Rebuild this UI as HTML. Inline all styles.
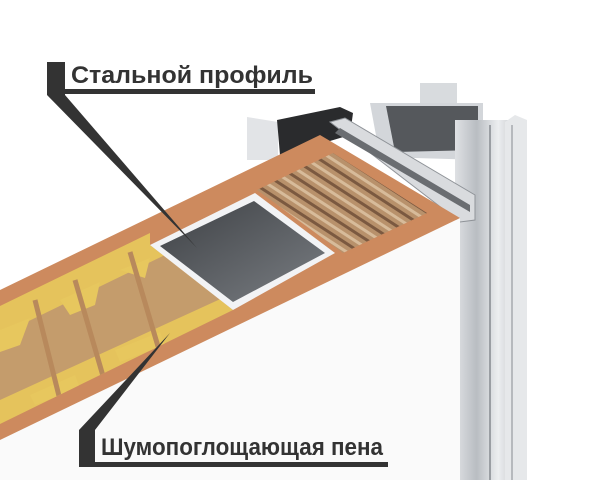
<!DOCTYPE html>
<html><head><meta charset="utf-8"><style>
html,body{margin:0;padding:0;background:#fff;}
svg{display:block}
</style></head><body>
<svg width="605" height="480" viewBox="0 0 605 480" xmlns="http://www.w3.org/2000/svg">
<defs>
<linearGradient id="al" x1="0" x2="1"><stop offset="0" stop-color="#dfe1e4"/><stop offset="0.3" stop-color="#b9bdc2"/><stop offset="0.6" stop-color="#eceef0"/><stop offset="1" stop-color="#a9adb2"/></linearGradient>
<linearGradient id="dk" x1="0" y1="0" x2="1" y2="1"><stop offset="0" stop-color="#3e4145"/><stop offset="1" stop-color="#7a7e83"/></linearGradient>
<pattern id="wd" width="14" height="14" patternUnits="userSpaceOnUse" patternTransform="rotate(33)"><rect width="14" height="14" fill="#b8916b"/><rect width="14" height="3" fill="#7b5940"/><rect y="7" width="14" height="3" fill="#d7bb9a"/></pattern>
<clipPath id="inner"><polygon points="0,306 150,233 150,245 233,310 0,424"/></clipPath>
</defs>
<!-- top post -->
<rect x="420" y="83" width="37" height="25" fill="#d8dbde"/>
<!-- back aluminium piece -->
<polygon points="247,117 278,122 278,160 247,160" fill="#e2e4e7"/>
<!-- top tube -->
<polygon points="370,103 483,103 483,160 380,157" fill="#d3d6da"/>
<polygon points="386,106 478,106 478,150 395,152" fill="#55585c"/>
<!-- gasket -->
<polygon points="277,120 340,107 353,113 350,135 300,150 280,155" fill="#2a2b2d"/>
<!-- vertical profile -->
<rect x="455" y="120" width="72" height="360" fill="url(#al)"/>
<polygon points="505,122 515,115 527,120 527,480 505,480" fill="#e6e8ea"/>
<line x1="490" y1="125" x2="490" y2="480" stroke="#9a9ea3" stroke-width="2"/>
<line x1="512" y1="125" x2="512" y2="480" stroke="#a5a9ae" stroke-width="1.5"/>
<!-- diagonal frame strips -->
<polygon points="330,122 345,118 475,195 475,220 460,222" fill="#d9dbde" stroke="#8f9398" stroke-width="1"/>
<polygon points="340,128 470,205 470,212 335,133" fill="#6a6d71"/>
<!-- white door face -->
<polygon points="0,440 460,218 460,480 0,480" fill="#fafafa"/>
<!-- slab top -->
<polygon points="0,290 320,135 460,218 0,440" fill="#cd8a5e"/>
<!-- inner foam/cardboard -->
<g clip-path="url(#inner)">
<rect x="0" y="200" width="260" height="240" fill="#e5c35c"/>
<polygon points="0,335 200,238 240,290 0,400" fill="#c49c6c"/>
<g fill="#e7c75e">
<polygon points="0,330 30,318 20,345 0,352"/>
<polygon points="60,300 100,282 95,305 70,315"/>
<polygon points="120,270 150,258 145,278"/>
<polygon points="30,395 75,375 80,388 35,405"/>
<polygon points="115,350 160,332 165,345 120,362"/>
</g>
<g stroke="#b8895c" stroke-width="5">
<line x1="35" y1="300" x2="65" y2="420"/><line x1="75" y1="280" x2="110" y2="400"/><line x1="130" y1="252" x2="165" y2="370"/>
</g>
</g>
<!-- wood block -->
<polygon points="257,190 333,153 427,213 343,253" fill="url(#wd)"/>
<!-- steel square -->
<polygon points="150,245 255,193 335,253 233,310" fill="#f2f3f5"/>
<polygon points="160,246 254,201 325,253 233,302" fill="url(#dk)"/>
<!-- top leader -->
<rect x="47" y="62" width="18" height="33" fill="#333"/>
<rect x="65" y="89" width="250" height="5" fill="#333"/>
<polygon points="47,95 65,95 197,248" fill="#333"/>
<text x="71" y="83" font-family="Liberation Sans, sans-serif" font-weight="bold" font-size="24" fill="#333" textLength="242" lengthAdjust="spacingAndGlyphs">Стальной профиль</text>
<!-- bottom leader -->
<rect x="79" y="430" width="16" height="37" fill="#333"/>
<rect x="95" y="462" width="293" height="5" fill="#333"/>
<polygon points="79,430 95,430 170,333" fill="#333"/>
<text x="101" y="455" font-family="Liberation Sans, sans-serif" font-weight="bold" font-size="24" fill="#333" textLength="282" lengthAdjust="spacingAndGlyphs">Шумопоглощающая пена</text>
</svg>
</body></html>
